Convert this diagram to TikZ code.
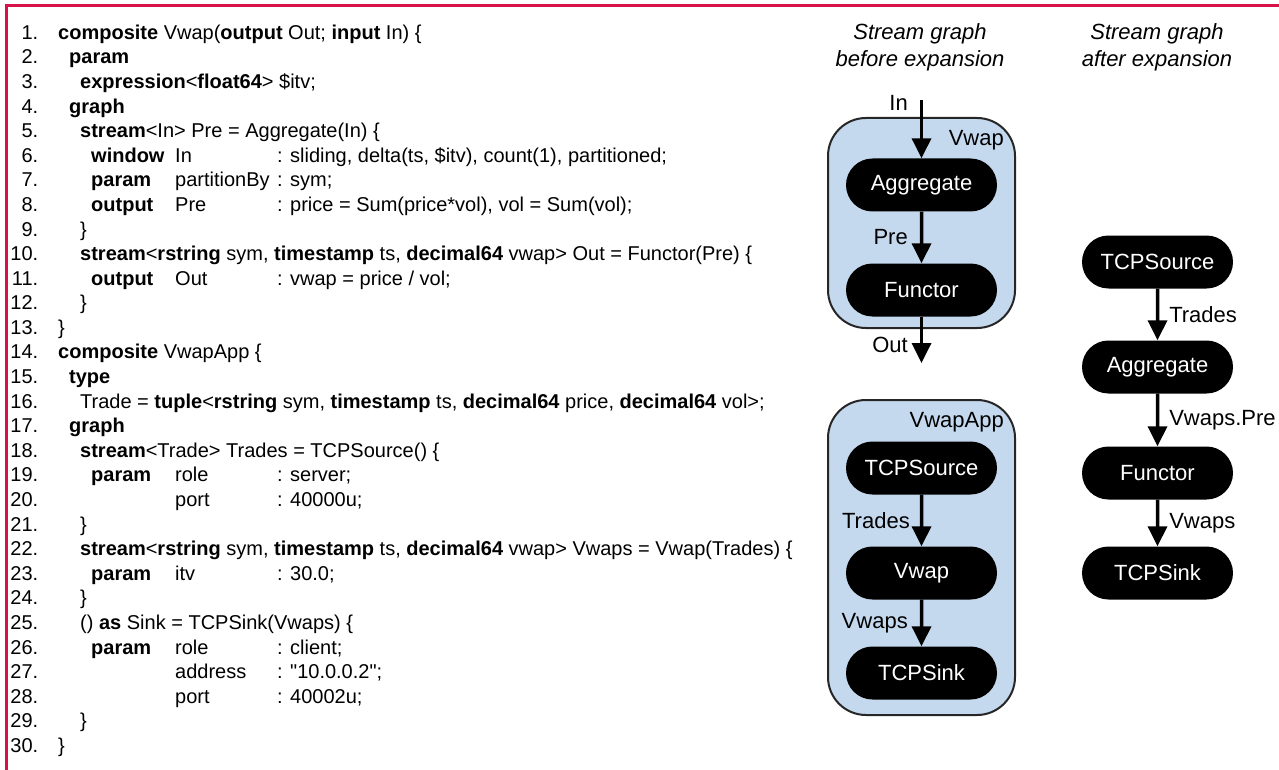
\documentclass[tikz,border=0pt]{standalone}
\usepackage{fontspec}
\setmainfont{Liberation Sans}
\usetikzlibrary{arrows.meta, shapes.misc}
\definecolor{framered}{RGB}{214,18,72}
\definecolor{compblue}{RGB}{197,217,238}
\newcommand{\codefont}{\fontsize{20}{24}\selectfont}
\newcommand{\graphfont}{\fontsize{22}{27}\selectfont}
\newcommand{\kw}[1]{\textbf{#1}}
\tikzset{
  code/.style={anchor=base west, inner sep=0pt, font=\codefont},
  lnum/.style={anchor=base east, inner sep=0pt, font=\codefont},
  op/.style={rounded rectangle, fill=black, text=white, font=\graphfont,
    minimum width=151pt, minimum height=53pt, inner sep=0pt},
  comp/.style={draw=black!85, line width=2pt, fill=compblue, rounded corners=38pt},
  flow/.style={-{Triangle[width=19pt,length=20pt]}, line width=3.5pt},
  lbl/.style={font=\graphfont, inner sep=0pt},
  ttl/.style={font=\graphfont\itshape, align=center, inner sep=0pt},
}

\begin{document}
\begin{tikzpicture}[x=1pt, y=-1pt]
\useasboundingbox (0,0) rectangle (1279,770);
% Rahmen
\draw[framered, line width=3pt] (6,770) -- (6,6) -- (1279,6);

% Programmtext
\begin{scope}[y=-24.59pt, yshift=-14.71pt]
\foreach \i in {1,...,30}
  \node[lnum] (n\i) at (38.5,\i) {\i.};
\node[code] (l1) at (58,1) {\kw{composite} Vwap(\kw{output} Out; \kw{input} In) \{};
\node[code] (l2) at (69,2) {\kw{param}};
\node[code] (l3) at (80,3) {\kw{expression}<\kw{float64}> \$itv;};
\node[code] (l4) at (69,4) {\kw{graph}};
\node[code] (l5) at (80,5) {\kw{stream}<In> Pre = Aggregate(In) \{};
\node[code] (l6) at (91,6) {\kw{window}};
\node[code] (l6b) at (175,6) {In};
\node[code] (l6c) at (277,6) {: sliding, delta(ts, \$itv), count(1), partitioned;};
\node[code] (l7) at (91,7) {\kw{param}};
\node[code] (l7b) at (175,7) {partitionBy};
\node[code] (l7c) at (277,7) {: sym;};
\node[code] (l8) at (91,8) {\kw{output}};
\node[code] (l8b) at (175,8) {Pre};
\node[code] (l8c) at (277,8) {: price = Sum(price*vol), vol = Sum(vol);};
\node[code] (l9) at (80,9) {\}};
\node[code] (l10) at (80,10) {\kw{stream}<\kw{rstring} sym, \kw{timestamp} ts, \kw{decimal64} vwap> Out = Functor(Pre) \{};
\node[code] (l11) at (91,11) {\kw{output}};
\node[code] (l11b) at (175,11) {Out};
\node[code] (l11c) at (277,11) {: vwap = price / vol;};
\node[code] (l12) at (80,12) {\}};
\node[code] (l13) at (58,13) {\}};
\node[code] (l14) at (58,14) {\kw{composite} VwapApp \{};
\node[code] (l15) at (69,15) {\kw{type}};
\node[code] (l16) at (80,16) {Trade = \kw{tuple}<\kw{rstring} sym, \kw{timestamp} ts, \kw{decimal64} price, \kw{decimal64} vol>;};
\node[code] (l17) at (69,17) {\kw{graph}};
\node[code] (l18) at (80,18) {\kw{stream}<Trade> Trades = TCPSource() \{};
\node[code] (l19) at (91,19) {\kw{param}};
\node[code] (l19b) at (175,19) {role};
\node[code] (l19c) at (277,19) {: server;};
\node[code] (l20b) at (175,20) {port};
\node[code] (l20c) at (277,20) {: 40000u;};
\node[code] (l21) at (80,21) {\}};
\node[code] (l22) at (80,22) {\kw{stream}<\kw{rstring} sym, \kw{timestamp} ts, \kw{decimal64} vwap> Vwaps = Vwap(Trades) \{};
\node[code] (l23) at (91,23) {\kw{param}};
\node[code] (l23b) at (175,23) {itv};
\node[code] (l23c) at (277,23) {: 30.0;};
\node[code] (l24) at (80,24) {\}};
\node[code] (l25) at (80,25) {() \kw{as} Sink = TCPSink(Vwaps) \{};
\node[code] (l26) at (91,26) {\kw{param}};
\node[code] (l26b) at (175,26) {role};
\node[code] (l26c) at (277,26) {: client;};
\node[code] (l27b) at (175,27) {address};
\node[code] (l27c) at (277,27) {: \textquotedbl10.0.0.2\textquotedbl;};
\node[code] (l28b) at (175,28) {port};
\node[code] (l28c) at (277,28) {: 40002u;};
\node[code] (l29) at (80,29) {\}};
\node[code] (l30) at (58,30) {\}};
\end{scope}

% Titel
\node[ttl] (ttlbefore) at (920,47) {Stream graph\\before expansion};
\node[ttl] (ttlafter) at (1157,47) {Stream graph\\after expansion};

% Vwap vor der Expansion
\draw[comp] (828,118) rectangle (1015,328);
\node[lbl, anchor=east] (vwaplbl) at (1004,140) {Vwap};
\node[op] (agg1) at (921.5,185) {Aggregate};
\node[op] (fun1) at (921.5,290) {Functor};
\coordinate (inTop) at (921.5,100);
\coordinate (outEnd) at (921.5,363);
\draw[flow] (inTop) -- node[lbl, pos=0.05, left=12pt] (inlbl) {In} (agg1);
\draw[flow] (agg1) -- node[lbl, left=12pt] (prelbl) {Pre} (fun1);
\draw[flow] (fun1) -- node[lbl, pos=0.6, left=12pt] (outlbl) {Out} (outEnd);

% VwapApp vor der Expansion
\draw[comp] (828,400) rectangle (1015,715);
\node[lbl, anchor=east] (applbl) at (1004,422) {VwapApp};
\node[op] (src1) at (921.5,468) {TCPSource};
\node[op] (vwap1) at (921.5,573) {Vwap};
\node[op] (snk1) at (921.5,673) {TCPSink};
\draw[flow] (src1) -- node[lbl, left=10pt] (trlbl1) {Trades} (vwap1);
\draw[flow] (vwap1) -- node[lbl, left=12pt] (vwlbl1) {Vwaps} (snk1);

% nach der Expansion
\node[op] (src2) at (1157.5,262) {TCPSource};
\node[op] (agg2) at (1157.5,367) {Aggregate};
\node[op] (fun2) at (1157.5,473) {Functor};
\node[op] (snk2) at (1157.5,573) {TCPSink};
\draw[flow] (src2) -- node[lbl, right=10pt] (trlbl2) {Trades} (agg2);
\draw[flow] (agg2) -- node[lbl, right=10pt] (prelbl2) {Vwaps.Pre} (fun2);
\draw[flow] (fun2) -- node[lbl, right=10pt] (vwlbl2) {Vwaps} (snk2);
\end{tikzpicture}
\end{document}
